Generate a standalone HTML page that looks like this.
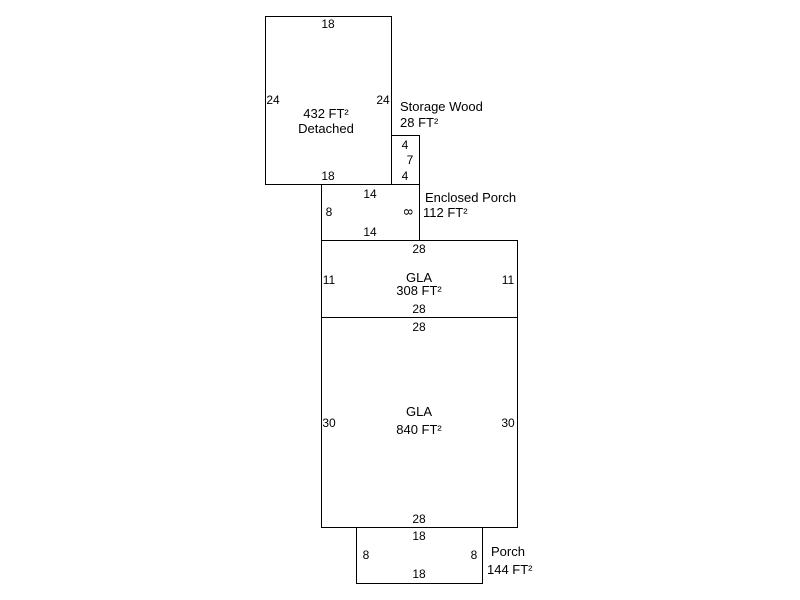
<!DOCTYPE html>
<html><head><style>html,body{margin:0;padding:0;background:#fff}svg{display:block}</style></head><body>
<svg width="800" height="600" xmlns="http://www.w3.org/2000/svg" font-family="Liberation Sans, Arial, sans-serif" font-size="12" fill="#000">
<g fill="none" stroke="#000" stroke-width="1">
<rect x="265.5" y="16.5" width="126" height="168"/>
<rect x="391.5" y="135.5" width="28" height="49"/>
<rect x="321.5" y="184.5" width="98" height="56"/>
<rect x="321.5" y="240.5" width="196" height="77"/>
<rect x="321.5" y="317.5" width="196" height="210"/>
<rect x="356.5" y="527.5" width="126" height="56"/>
</g>
<g text-anchor="middle">
<text x="328" y="28">18</text>
<text x="273" y="104">24</text>
<text x="383" y="104">24</text>
<text x="326" y="118" font-size="13">432 FT²</text>
<text x="326" y="133" font-size="13">Detached</text>
<text x="328" y="180">18</text>
<text x="405" y="149">4</text>
<text x="410" y="164">7</text>
<text x="405" y="180">4</text>
<text x="370" y="198">14</text>
<text x="329" y="216">8</text>
<text x="370" y="236">14</text>
<text x="408" y="216" transform="rotate(90 408 212)">8</text>
<text x="419" y="253">28</text>
<text x="329" y="284">11</text>
<text x="508" y="284">11</text>
<text x="419" y="282" font-size="13">GLA</text>
<text x="419" y="295" font-size="13">308 FT²</text>
<text x="419" y="313">28</text>
<text x="419" y="331">28</text>
<text x="329" y="427">30</text>
<text x="508" y="427">30</text>
<text x="419" y="416" font-size="13">GLA</text>
<text x="419" y="434" font-size="13">840 FT²</text>
<text x="419" y="523">28</text>
<text x="419" y="540">18</text>
<text x="366" y="559">8</text>
<text x="474" y="559">8</text>
<text x="419" y="578">18</text>
</g>
<g font-size="13">
<text x="400" y="111">Storage Wood</text>
<text x="400" y="127">28 FT²</text>
<text x="425" y="202">Enclosed Porch</text>
<text x="423" y="217">112 FT²</text>
<text x="491" y="556">Porch</text>
<text x="487" y="574">144 FT²</text>
</g>
</svg>
</body></html>
